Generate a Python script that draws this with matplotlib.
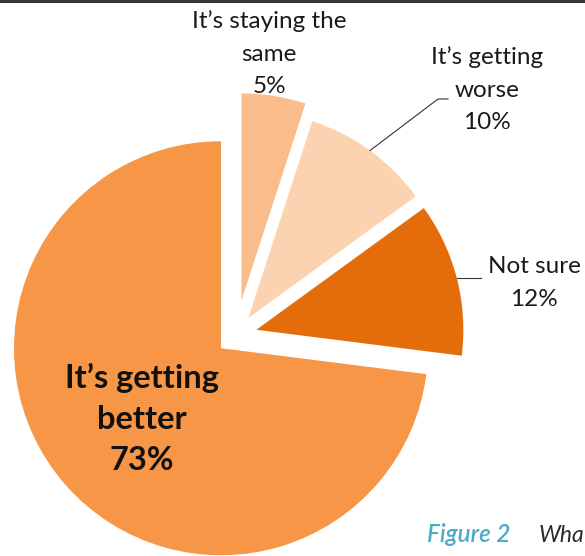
import numpy as np
import matplotlib.pyplot as plt
from matplotlib.patches import Rectangle

## data
labels = ['It\u2019s staying the\nsame', 'It\u2019s getting\nworse',
          'Not sure', 'It\u2019s getting\nbetter']
shares = [5, 10, 12, 73]
colors = ['#F9BC8A', '#FCD3B1', '#E46C0A', '#F79646']

## setup
W, H = 585, 556
plt.rcParams['font.family'] = ['Lato', 'DejaVu Sans']

fig = plt.figure(figsize = (W / 100, H / 100), dpi = 100)
ax = fig.add_axes([0, 0, 1, 1])

# pie centre / radius in pixel units (y measured from bottom)
cx, cy, R = 236, H - 335, 207
# matplotlib explode is an absolute offset, so give it in pixels
explode = [35, 21, 21, 20]

wedges, _ = ax.pie(shares, startangle = 90, counterclock = False,
                   explode = explode, radius = R, center = (cx, cy),
                   colors = colors, frame = True,
                   wedgeprops = dict(linewidth = 0))
ax.set_xlim(0, W), ax.set_ylim(0, H)
ax.set_aspect('equal'), ax.axis('off')

def arc_point(w, frac = 1.0):
    # point on a wedge arc at its mid angle
    mid = np.deg2rad((w.theta1 + w.theta2) / 2)
    x0, y0 = w.center
    return x0 + w.r * frac * np.cos(mid), y0 + w.r * frac * np.sin(mid)

## labels
lbl_kw = dict(ha = 'center', va = 'center', fontsize = 17.5,
              color = '#1a1a1a', linespacing = 1.68)

ax.text(269, H - 54, f'{labels[0]}\n{shares[0]}%', **lbl_kw)
ax.text(487, H - 90, f'{labels[1]}\n{shares[1]}%', **lbl_kw)
ax.text(534, H - 283, f'{labels[2]}\n{shares[2]}%', **lbl_kw)
ax.text(142, H - 419, f'{labels[3]}\n{shares[3]}%', ha = 'center',
        va = 'center', fontsize = 23.5, fontweight = 'bold',
        color = '#111111', linespacing = 1.5)

# leader lines
lx, ly = arc_point(wedges[1])
ax.plot([lx, 438, 448], [ly, H - 99, H - 99], color = '#333333', lw = 0.8)
lx, ly = arc_point(wedges[2])
ax.plot([lx, 481], [ly, ly], color = '#333333', lw = 0.8)

## caption fragment and scan edge
ax.text(427, H - 535, 'Figure 2', fontsize = 17.5, style = 'italic',
        fontweight = 'semibold', color = '#4BACC6', va = 'center')
ax.text(539, H - 535, 'Wha', fontsize = 16.5, style = 'italic',
        color = '#2b2b2b', va = 'center')
fig.add_artist(Rectangle((0, 1 - 3 / H), 1, 3 / H, transform = fig.transFigure,
                         color = '#3a3632', lw = 0))

fig.savefig('out.png', dpi = 100)
